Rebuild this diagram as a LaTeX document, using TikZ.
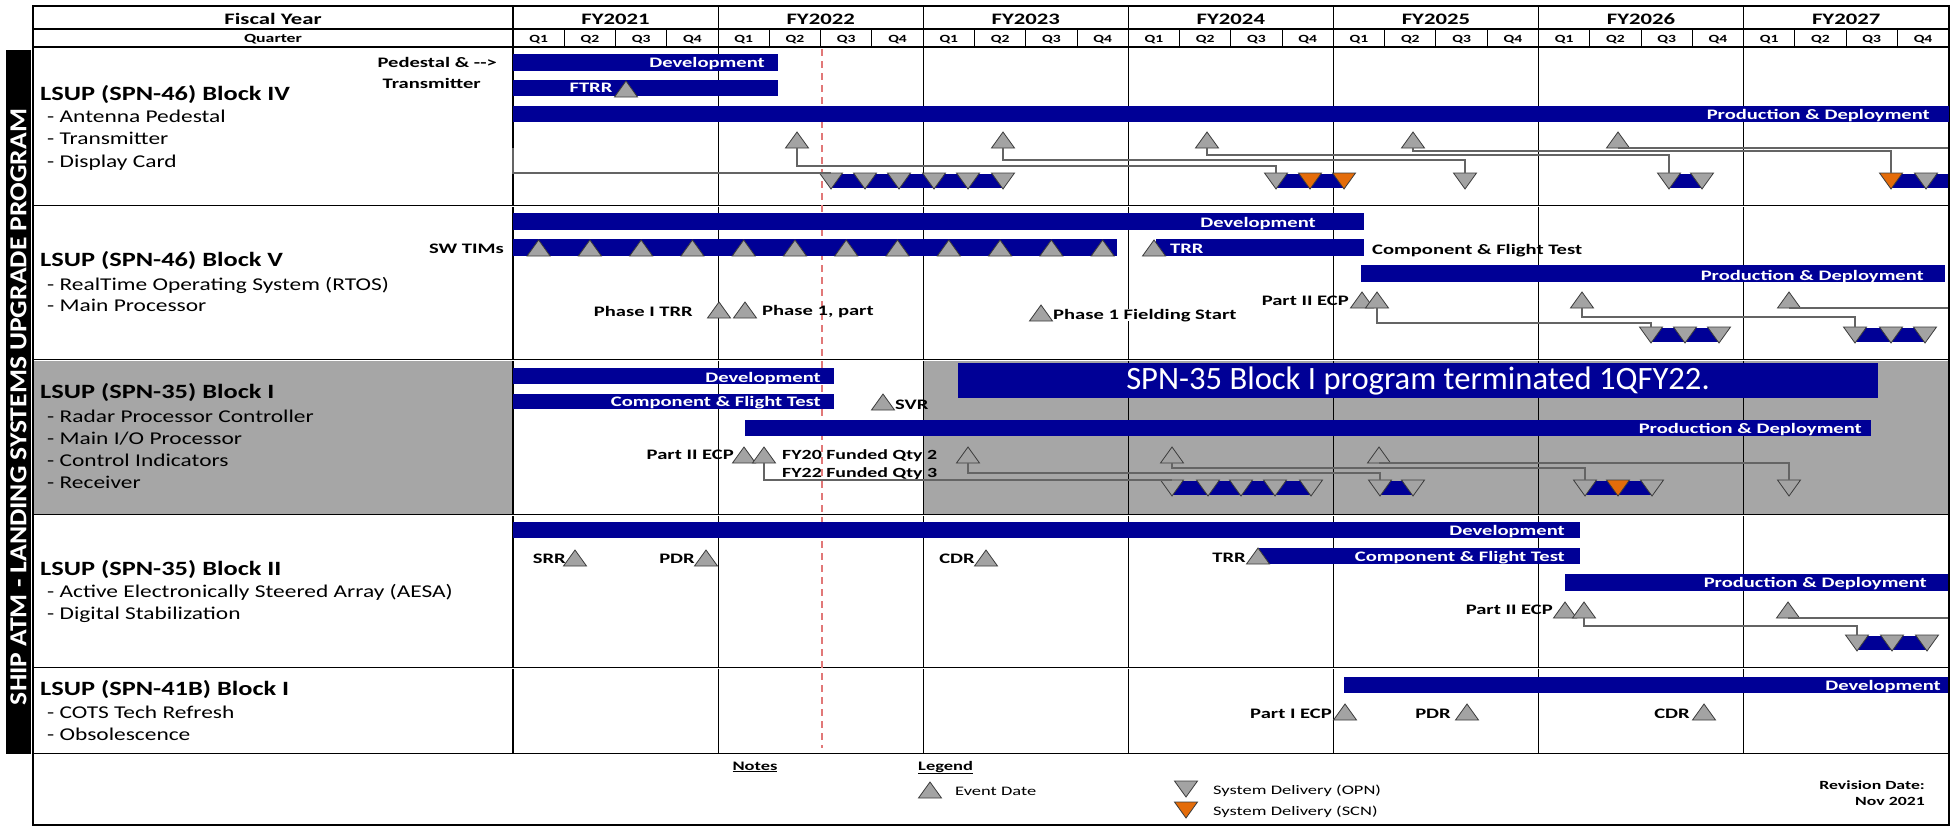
\documentclass[tikz,border=0pt]{standalone}
\usepackage{fontspec}
\usepackage{graphicx}
\setmainfont{Carlito}
\newfontfamily\fT[FakeStretch=1.3]{Carlito}
\newfontfamily\fS[FakeStretch=1.42]{Carlito}
\definecolor{bb}{RGB}{0,0,150}
\definecolor{og}{RGB}{228,108,10}
\definecolor{trig}{RGB}{163,163,163}
\definecolor{bggray}{RGB}{166,166,166}
\definecolor{trid}{RGB}{60,60,60}
\definecolor{cn}{RGB}{100,100,100}
\definecolor{rdash}{RGB}{225,120,120}
\tikzset{
  evt/.pic={\filldraw[fill=trig,draw=trid,line width=0.8pt] (-11.5,8) -- (11.5,8) -- (0,-8) -- cycle;
            \coordinate (-top) at (0,-8); \coordinate (-bot) at (0,8);},
  dlv/.pic={\filldraw[fill=trig,draw=trid,line width=0.8pt] (-11.5,-8) -- (11.5,-8) -- (0,8) -- cycle;
            \coordinate (-top) at (0,-8); \coordinate (-bot) at (0,8);},
  dlvo/.pic={\filldraw[fill=og,draw=trid,line width=0.8pt] (-11.5,-8) -- (11.5,-8) -- (0,8) -- cycle;
            \coordinate (-top) at (0,-8); \coordinate (-bot) at (0,8);},
  conn/.style={draw=cn,line width=1.2pt},
  gridl/.style={line width=1.2pt},
  sepl/.style={double,double distance=0.9pt,line width=0.7pt},
  hd/.style={inner sep=0pt,anchor=base,font=\fS\bfseries\fontsize{16}{16}\selectfont},
  qd/.style={inner sep=0pt,anchor=base,font=\fS\bfseries\fontsize{11}{11}\selectfont},
  ttl/.style={inner sep=0pt,anchor=base west,font=\fT\bfseries\fontsize{20.3}{20.3}\selectfont},
  sub/.style={inner sep=0pt,anchor=base west,font=\fT\fontsize{18}{18}\selectfont},
  wl/.style={inner sep=0pt,text=white,font=\fS\bfseries\fontsize{14.5}{14.5}\selectfont},
  bl/.style={inner sep=0pt,font=\fS\bfseries\fontsize{14.5}{14.5}\selectfont},
  lg/.style={inner sep=0pt,anchor=base west,font=\fS\fontsize{13}{13}\selectfont},
}
\begin{document}
\begin{tikzpicture}[x=1pt,y=-1pt]
\fill[white] (0,0) rectangle (1957,827);
\useasboundingbox (0,0) rectangle (1957,827);
% shaded row
\fill[bggray] (33,360) rectangle (513,515);
\fill[bggray] (923,360) rectangle (1949,515);
% side band
\fill[black] (6,50) rectangle (31,754);
\node[rotate=90,text=white,inner sep=0pt] (band) at (18.5,407) {\resizebox{596pt}{16pt}{\bfseries SHIP ATM - LANDING SYSTEMS UPGRADE PROGRAM}};
% grid
\foreach \k in {0,...,6} \draw[gridl] ({513+205.1*\k},6) -- ({513+205.1*\k},754);
\foreach \k in {1,...,27} \draw[line width=1pt] ({513+51.275*\k},29) -- ({513+51.275*\k},47);
\draw[gridl] (33,29) -- (1949,29);
\draw[gridl] (33,47) -- (1949,47);
\foreach \y in {206,360,515,668,754} \draw[sepl] (33,\y) -- (1949,\y);
\draw[line width=1.5pt] (33,6) rectangle (1949,825);
% header text
\node[hd] (fyh) at (273,24) {Fiscal Year};
\node[inner sep=0pt,anchor=base,font=\fS\bfseries\fontsize{12.5}{12.5}\selectfont] (qh) at (273,42.5) {Quarter};
\foreach \k/\yr in {0/2021,1/2022,2/2023,3/2024,4/2025,5/2026,6/2027}
  \node[hd] (fy\yr) at ({513+205.1*(\k+0.5)},24) {FY\yr};
\foreach \k in {0,...,27}{
  \pgfmathtruncatemacro\qq{mod(\k,4)+1}
  \node[qd] (q\k) at ({513+51.275*(\k+0.5)},42) {Q\qq};
}
% current date line
\draw[rdash,dash pattern=on 7pt off 5pt,line width=1.1pt] (822,49) -- (822,748);

% ===== Block IV =====
\node[ttl] (t4) at (40,100) {LSUP (SPN-46) Block IV};
\node[sub] (t4a) at (47,122.5) {- Antenna Pedestal};
\node[sub] (t4b) at (47,144.5) {- Transmitter};
\node[sub] (t4c) at (47,167) {- Display Card};
\fill[bb] (513,54) rectangle (778,71);
\fill[bb] (513,80) rectangle (778,96);
\fill[bb] (513,106) rectangle (1949,122);
\node[bl,anchor=base east] (ped) at (497,67) {Pedestal \& -{}->};
\node[bl,anchor=base east] (trn) at (481,88) {Transmitter};
\node[wl,anchor=base east] (b4dev) at (765,67) {Development};
\node[wl,anchor=base] (b4ftrr) at (591,92.5) {FTRR};
\pic (ftrr) at (626,89) {evt};
\node[wl,anchor=base east] (b4pd) at (1930,119) {Production \& Deployment};
\pic (b4e1) at (797,140) {evt};
\pic (b4e2) at (1003,140) {evt};
\pic (b4e3) at (1207,140) {evt};
\pic (b4e4) at (1413,140) {evt};
\pic (b4e5) at (1618,140) {evt};
\fill[bb] (831,174) rectangle (1003,188);
\fill[bb] (1276,174) rectangle (1344,188);
\fill[bb] (1669,174) rectangle (1702,188);
\fill[bb] (1891,174) rectangle (1948,188);
\pic (b4g1a) at (831,181) {dlv};
\foreach \x in {865,899,934,968,1003} \pic at (\x,181) {dlv};
\pic (b4g2a) at (1276,181) {dlv};
\pic (b4g2b) at (1310,181) {dlvo};
\pic (b4g2c) at (1344,181) {dlvo};
\pic (b4g3) at (1465,181) {dlv};
\pic (b4g4a) at (1669,181) {dlv};
\pic (b4g4b) at (1702,181) {dlv};
\pic (b4g5a) at (1891,181) {dlvo};
\pic (b4g5b) at (1926,181) {dlv};
\coordinate (b4in) at (513,148);
\coordinate (b4out) at (1948,147);
\draw[conn] (b4in) |- (b4g1a-top);
\draw[conn] (b4e1-bot) -- ++(0,18) -| (b4g2a-top);
\draw[conn] (b4e2-bot) -- ++(0,12) -| (b4g3-top);
\draw[conn] (b4e3-bot) -- ++(0,7) -| (b4g4a-top);
\draw[conn] (b4e4-bot) -- ++(0,3) -| (b4g5a-top);
\draw[conn] (b4e5-bot) -- (b4e5-bot -| b4out);

% ===== Block V =====
\node[ttl] (t5) at (40,266) {LSUP (SPN-46) Block V};
\node[sub] (t5a) at (47,290) {- RealTime Operating System (RTOS)};
\node[sub] (t5b) at (47,311) {- Main Processor};
\fill[bb] (513,213) rectangle (1364,230);
\fill[bb] (513,239) rectangle (1117,256);
\fill[bb] (1156,239) rectangle (1364,256);
\fill[bb] (1361,265) rectangle (1945,282);
\node[wl,anchor=base east] (b5dev) at (1316,227) {Development};
\node[bl,anchor=base east] (tims) at (504,253) {SW TIMs};
\foreach \i in {0,...,11} \pic at ({538.6+51.275*\i},248) {evt};
\pic (b5trr) at (1154,248) {evt};
\node[wl,anchor=base west] (b5trrl) at (1170,253) {TRR};
\node[bl,anchor=base west] (b5cft) at (1372,254) {Component \& Flight Test};
\node[wl,anchor=base east] (b5pd) at (1924,280) {Production \& Deployment};
\node[bl,anchor=base east] (b5ecp) at (1349,305) {Part II ECP};
\pic (b5p1) at (1362,300) {evt};
\pic (b5p2) at (1377,300) {evt};
\pic (b5e1) at (1582,300) {evt};
\pic (b5e2) at (1789,300) {evt};
\fill[bb] (1651,328) rectangle (1719,342);
\fill[bb] (1855,328) rectangle (1925,342);
\pic (b5ga1) at (1651,335) {dlv};
\pic (b5ga2) at (1685,335) {dlv};
\pic (b5ga3) at (1719,335) {dlv};
\pic (b5gb1) at (1855,335) {dlv};
\pic (b5gb2) at (1891,335) {dlv};
\pic (b5gb3) at (1925,335) {dlv};
\coordinate (b5out) at (1948,307);
\draw[conn] (b5p2-bot) -- ++(0,15) -| (b5ga1-top);
\draw[conn] (b5e1-bot) -- ++(0,9) -| (b5gb1-top);
\draw[conn] (b5e2-bot) -- (b5e2-bot -| b5out);
\node[bl,anchor=base east] (ph1) at (693,316) {Phase I TRR};
\pic (b5t1) at (719,310) {evt};
\pic (b5t2) at (745,310) {evt};
\node[bl,anchor=base west] (ph1p) at (762,315) {Phase 1, part};
\pic (b5f) at (1041,313) {evt};
\node[bl,anchor=base west,fill=white] (ph1f) at (1053,319) {Phase 1 Fielding Start};

% ===== SPN-35 Block I =====
\node[ttl] (t1) at (40,398) {LSUP (SPN-35) Block I};
\node[sub] (t1a) at (47,422) {- Radar Processor Controller};
\node[sub] (t1b) at (47,444) {- Main I/O Processor};
\node[sub] (t1c) at (47,466) {- Control Indicators};
\node[sub] (t1d) at (47,488) {- Receiver};
\fill[bb] (513,368) rectangle (834,384);
\fill[bb] (513,394) rectangle (834,409);
\fill[bb] (958,363) rectangle (1878,398);
\fill[bb] (745,420) rectangle (1871,436);
\node[wl,anchor=base east] (b1dev) at (821,382) {Development};
\node[wl,anchor=base east] (b1cft) at (821,406) {Component \& Flight Test};
\pic (b1svr) at (883,402) {evt};
\node[bl,anchor=base west] (svr) at (895,409) {SVR};
\node[text=white,inner sep=0pt,font=\fontsize{32.6}{32.6}\selectfont] (term) at (1418,381) {SPN-35 Block I program terminated 1QFY22.};
\node[wl,anchor=base east] (b1pd) at (1862,433) {Production \& Deployment};
\node[bl,anchor=base east] (b1ecp) at (734,459) {Part II ECP};
\pic (b1p1) at (744,455) {evt};
\pic (b1p2) at (764,455) {evt};
\node[bl,anchor=base west,font=\fS\bfseries\fontsize{14}{14}\selectfont] (fy20) at (782,459) {FY20 Funded Qty 2};
\node[bl,anchor=base west,font=\fS\bfseries\fontsize{14}{14}\selectfont] (fy22) at (782,477) {FY22 Funded Qty 3};
\pic (b1e1) at (968,455) {evt};
\pic (b1e2) at (1172,455) {evt};
\pic (b1e3) at (1379,455) {evt};
\fill[bb] (1172,481) rectangle (1311,495);
\fill[bb] (1380,481) rectangle (1413,495);
\fill[bb] (1585,481) rectangle (1652,495);
\pic (b1g1a) at (1172,488) {dlv};
\foreach \x in {1208,1241,1275,1311} \pic at (\x,488) {dlv};
\pic (b1g2a) at (1380,488) {dlv};
\pic (b1g2b) at (1413,488) {dlv};
\pic (b1g3a) at (1585,488) {dlv};
\pic (b1g3b) at (1618,488) {dlvo};
\pic (b1g3c) at (1652,488) {dlv};
\pic (b1g4) at (1789,488) {dlv};
\draw[conn] (b1p2-bot) |- (b1g1a-top);
\draw[conn] (b1e1-bot) -- ++(0,10) -| (b1g2a-top);
\draw[conn] (b1e2-bot) -- ++(0,5) -| (b1g3a-top);
\draw[conn] (b1e3-bot) -| (b1g4-top);

% ===== SPN-35 Block II =====
\node[ttl] (t2) at (40,575) {LSUP (SPN-35) Block II};
\node[sub] (t2a) at (47,597) {- Active Electronically Steered Array (AESA)};
\node[sub] (t2b) at (47,619) {- Digital Stabilization};
\fill[bb] (513,522) rectangle (1580,538);
\fill[bb] (1259,548) rectangle (1580,564);
\fill[bb] (1565,574) rectangle (1948,591);
\node[wl,anchor=base east] (b2dev) at (1565,535) {Development};
\node[wl,anchor=base east] (b2cft) at (1565,561) {Component \& Flight Test};
\node[wl,anchor=base east] (b2pd) at (1927,587) {Production \& Deployment};
\node[bl,anchor=base east] (srr) at (566,563) {SRR};
\pic (b2srr) at (575,558) {evt};
\node[bl,anchor=base east] (pdr2) at (695,563) {PDR};
\pic (b2pdr) at (706,558) {evt};
\node[bl,anchor=base east] (cdr2) at (975,563) {CDR};
\pic (b2cdr) at (986,558) {evt};
\node[bl,anchor=base east] (trr2) at (1246,562) {TRR};
\pic (b2trr) at (1258,556) {evt};
\node[bl,anchor=base east] (b2ecp) at (1553,614) {Part II ECP};
\pic (b2p1) at (1565,610) {evt};
\pic (b2p2) at (1584,610) {evt};
\pic (b2e1) at (1788,610) {evt};
\fill[bb] (1857,636) rectangle (1927,650);
\pic (b2g1) at (1857,643) {dlv};
\pic (b2g2) at (1892,643) {dlv};
\pic (b2g3) at (1927,643) {dlv};
\coordinate (b2out) at (1948,617);
\draw[conn] (b2p2-bot) -- ++(0,8) -| (b2g1-top);
\draw[conn] (b2e1-bot) -- (b2e1-bot -| b2out);

% ===== SPN-41B Block I =====
\node[ttl] (t41) at (40,695) {LSUP (SPN-41B) Block I};
\node[sub] (t41a) at (47,718) {- COTS Tech Refresh};
\node[sub] (t41b) at (47,740) {- Obsolescence};
\fill[bb] (1344,677) rectangle (1948,693);
\node[wl,anchor=base east] (c41dev) at (1941,690) {Development};
\node[bl,anchor=base east] (pecp) at (1332,718) {Part I ECP};
\pic (c41e1) at (1345,712) {evt};
\node[bl,anchor=base east] (pdr41) at (1451,718) {PDR};
\pic (c41e2) at (1467,712) {evt};
\node[bl,anchor=base east] (cdr41) at (1690,718) {CDR};
\pic (c41e3) at (1704,712) {evt};

% ===== Legend =====
\node[inner sep=0pt,anchor=base,font=\fS\bfseries\fontsize{13}{13}\selectfont] (notes) at (755,770) {\underline{Notes}};
\node[inner sep=0pt,anchor=base west,font=\fS\bfseries\fontsize{13}{13}\selectfont] (legend) at (918,770) {\underline{Legend}};
\pic (lgE) at (930,790) {evt};
\node[lg] (lgEt) at (955,795) {Event Date};
\pic (lgO) at (1186,789) {dlv};
\node[lg] (lgOt) at (1213,794) {System Delivery (OPN)};
\pic (lgS) at (1186,810) {dlvo};
\node[lg] (lgSt) at (1213,815) {System Delivery (SCN)};
\node[inner sep=0pt,anchor=base east,font=\fS\bfseries\fontsize{12.5}{12.5}\selectfont] (rev) at (1925,789) {Revision Date:};
\node[inner sep=0pt,anchor=base east,font=\fS\bfseries\fontsize{12.5}{12.5}\selectfont] (revd) at (1925,805) {Nov 2021};
\end{tikzpicture}
\end{document}
